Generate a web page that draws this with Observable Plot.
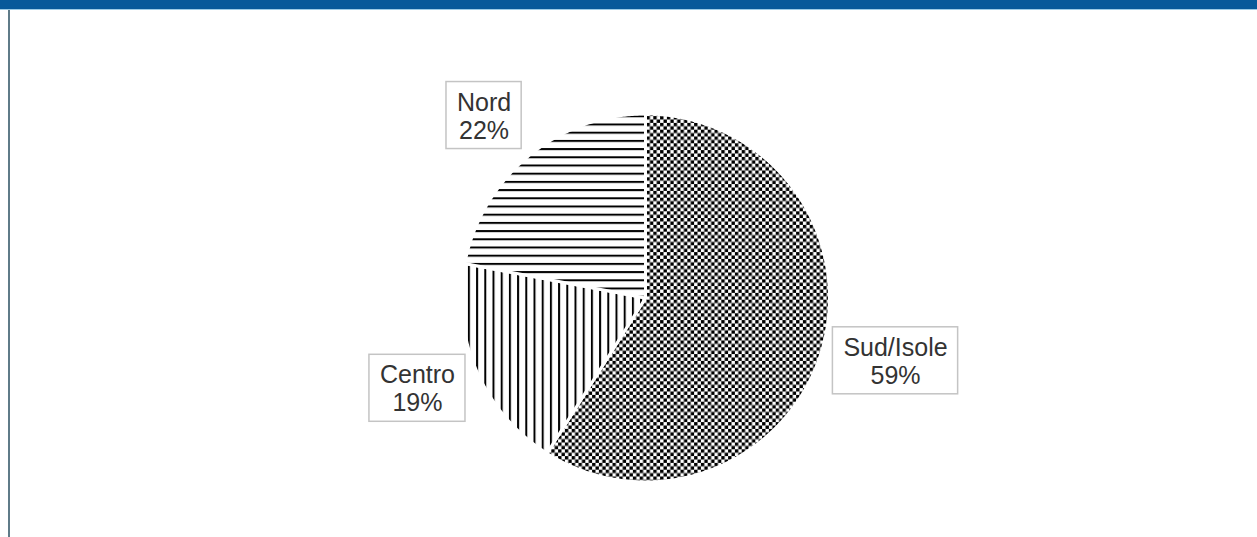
<!DOCTYPE html>
<html>
<head>
<meta charset="utf-8">
<script src="https://cdn.jsdelivr.net/npm/d3@7"></script>
<script src="https://cdn.jsdelivr.net/npm/@observablehq/plot@0.6"></script>
<style>
  html, body { margin: 0; padding: 0; background: #fff; }
  #wrap { position: relative; width: 1257px; height: 537px; overflow: hidden; background: #fff; }
  #chart { position: absolute; left: 0; top: 0; }
  #topbar { position: absolute; left: 0; top: 0; width: 1257px; height: 9px; background: #07599a; }
  #topline { position: absolute; left: 0; top: 9px; width: 1257px; height: 1px; background: #9ccbe6; }
  #leftline { position: absolute; left: 8px; top: 10px; width: 2px; height: 527px; background: #5f7b88; }
</style>
</head>
<body>
<div id="wrap">
  <div id="chart"></div>
  <div id="topbar"></div>
  <div id="topline"></div>
  <div id="leftline"></div>
</div>
<script>
// ---- data ----
const regions = ["Sud/Isole", "Centro", "Nord"];
const shares = [59, 19, 22];
const shareLabels = ["59%", "19%", "22%"];

// ---- layout ----
const W = 1257, H = 537;
const CX = 645, CY = 297.5, R = 184;
const patternIds = ["pat-check", "pat-vert", "pat-horiz"];
const labelRadius = [1.401, 1.333, 1.324];
const labelShiftDeg = [-2.1, 1.8, -1.9];
const FONT = "'Liberation Sans', Arial, Helvetica, sans-serif";
const FONT_SIZE = 25;

// ---- pattern defs ----
const defsSvg = d3.select("#wrap").append("svg")
  .attr("width", 0).attr("height", 0)
  .style("position", "absolute").style("left", 0).style("top", 0);
const defs = defsSvg.append("defs");
{
  const c = 3.4;
  const p = defs.append("pattern").attr("id", "pat-check")
    .attr("patternUnits", "userSpaceOnUse").attr("width", 2 * c).attr("height", 2 * c);
  p.append("rect").attr("width", 2 * c).attr("height", 2 * c).attr("fill", "#fff");
  p.append("rect").attr("x", 0).attr("y", 0).attr("width", c).attr("height", c).attr("fill", "#000");
  p.append("rect").attr("x", c).attr("y", c).attr("width", c).attr("height", c).attr("fill", "#000");
}
{
  const s = 8.2;
  const p = defs.append("pattern").attr("id", "pat-horiz")
    .attr("patternUnits", "userSpaceOnUse").attr("width", 10).attr("height", s);
  p.append("rect").attr("width", 10).attr("height", s).attr("fill", "#fff");
  p.append("rect").attr("x", 0).attr("y", 0).attr("width", 10).attr("height", 2).attr("fill", "#000");
}
{
  const s = 8.2;
  const p = defs.append("pattern").attr("id", "pat-vert")
    .attr("patternUnits", "userSpaceOnUse").attr("width", s).attr("height", 10);
  p.append("rect").attr("width", s).attr("height", 10).attr("fill", "#fff");
  p.append("rect").attr("x", 0).attr("y", 0).attr("width", 2).attr("height", 10).attr("fill", "#000");
}

// ---- geometry from data ----
const data = regions.map((region, i) => ({ region, share: shares[i], label: shareLabels[i], i }));
const arcs = d3.pie().sort(null).value(d => d.share)(data);

function slicePolygon(a) {
  const pts = [{ x: 0, y: 0 }];
  const n = Math.max(2, Math.ceil((a.endAngle - a.startAngle) / (Math.PI / 360)));
  for (let k = 0; k <= n; k++) {
    const t = a.startAngle + (a.endAngle - a.startAngle) * k / n;
    pts.push({ x: R * Math.sin(t), y: -R * Math.cos(t) });
  }
  pts.push({ x: 0, y: 0 });
  return pts;
}

const ctx = document.createElement("canvas").getContext("2d");
ctx.font = `${FONT_SIZE}px ${FONT}`;

const labelData = arcs.map((a, i) => {
  const mid = (a.startAngle + a.endAngle) / 2 + labelShiftDeg[i] * Math.PI / 180;
  const rr = R * labelRadius[i];
  const x = rr * Math.sin(mid), y = -rr * Math.cos(mid);
  const tw = Math.max(ctx.measureText(a.data.region).width, ctx.measureText(a.data.label).width);
  const hw = tw / 2 + 10.5, hh = 33.5;
  return { x, y, x1: x - hw, x2: x + hw, y1: y - hh, y2: y + hh, text: a.data.region + "\n" + a.data.label };
});

const sliceMarks = arcs.map((a, i) =>
  Plot.line(slicePolygon(a), {
    x: "x", y: "y",
    fill: `url(#${patternIds[i]})`,
    stroke: "#fff", strokeWidth: 3, strokeLinejoin: "round"
  })
);

const chart = Plot.plot({
  width: W, height: H,
  margin: 0,
  x: { domain: [-CX, W - CX], range: [0, W], axis: null },
  y: { domain: [-CY, H - CY], range: [0, H], axis: null },
  style: { fontFamily: FONT, background: "transparent" },
  marks: [
    ...sliceMarks,
    Plot.rect(labelData, { x1: "x1", x2: "x2", y1: "y1", y2: "y2", fill: "#fff", stroke: "#c4c4c4", strokeWidth: 1.5 }),
    Plot.text(labelData, { x: "x", y: "y", text: "text", fontSize: FONT_SIZE, lineHeight: 28 / FONT_SIZE, fill: "#333", textAnchor: "middle" })
  ]
});
document.getElementById("chart").appendChild(chart);
</script>
</body>
</html>
